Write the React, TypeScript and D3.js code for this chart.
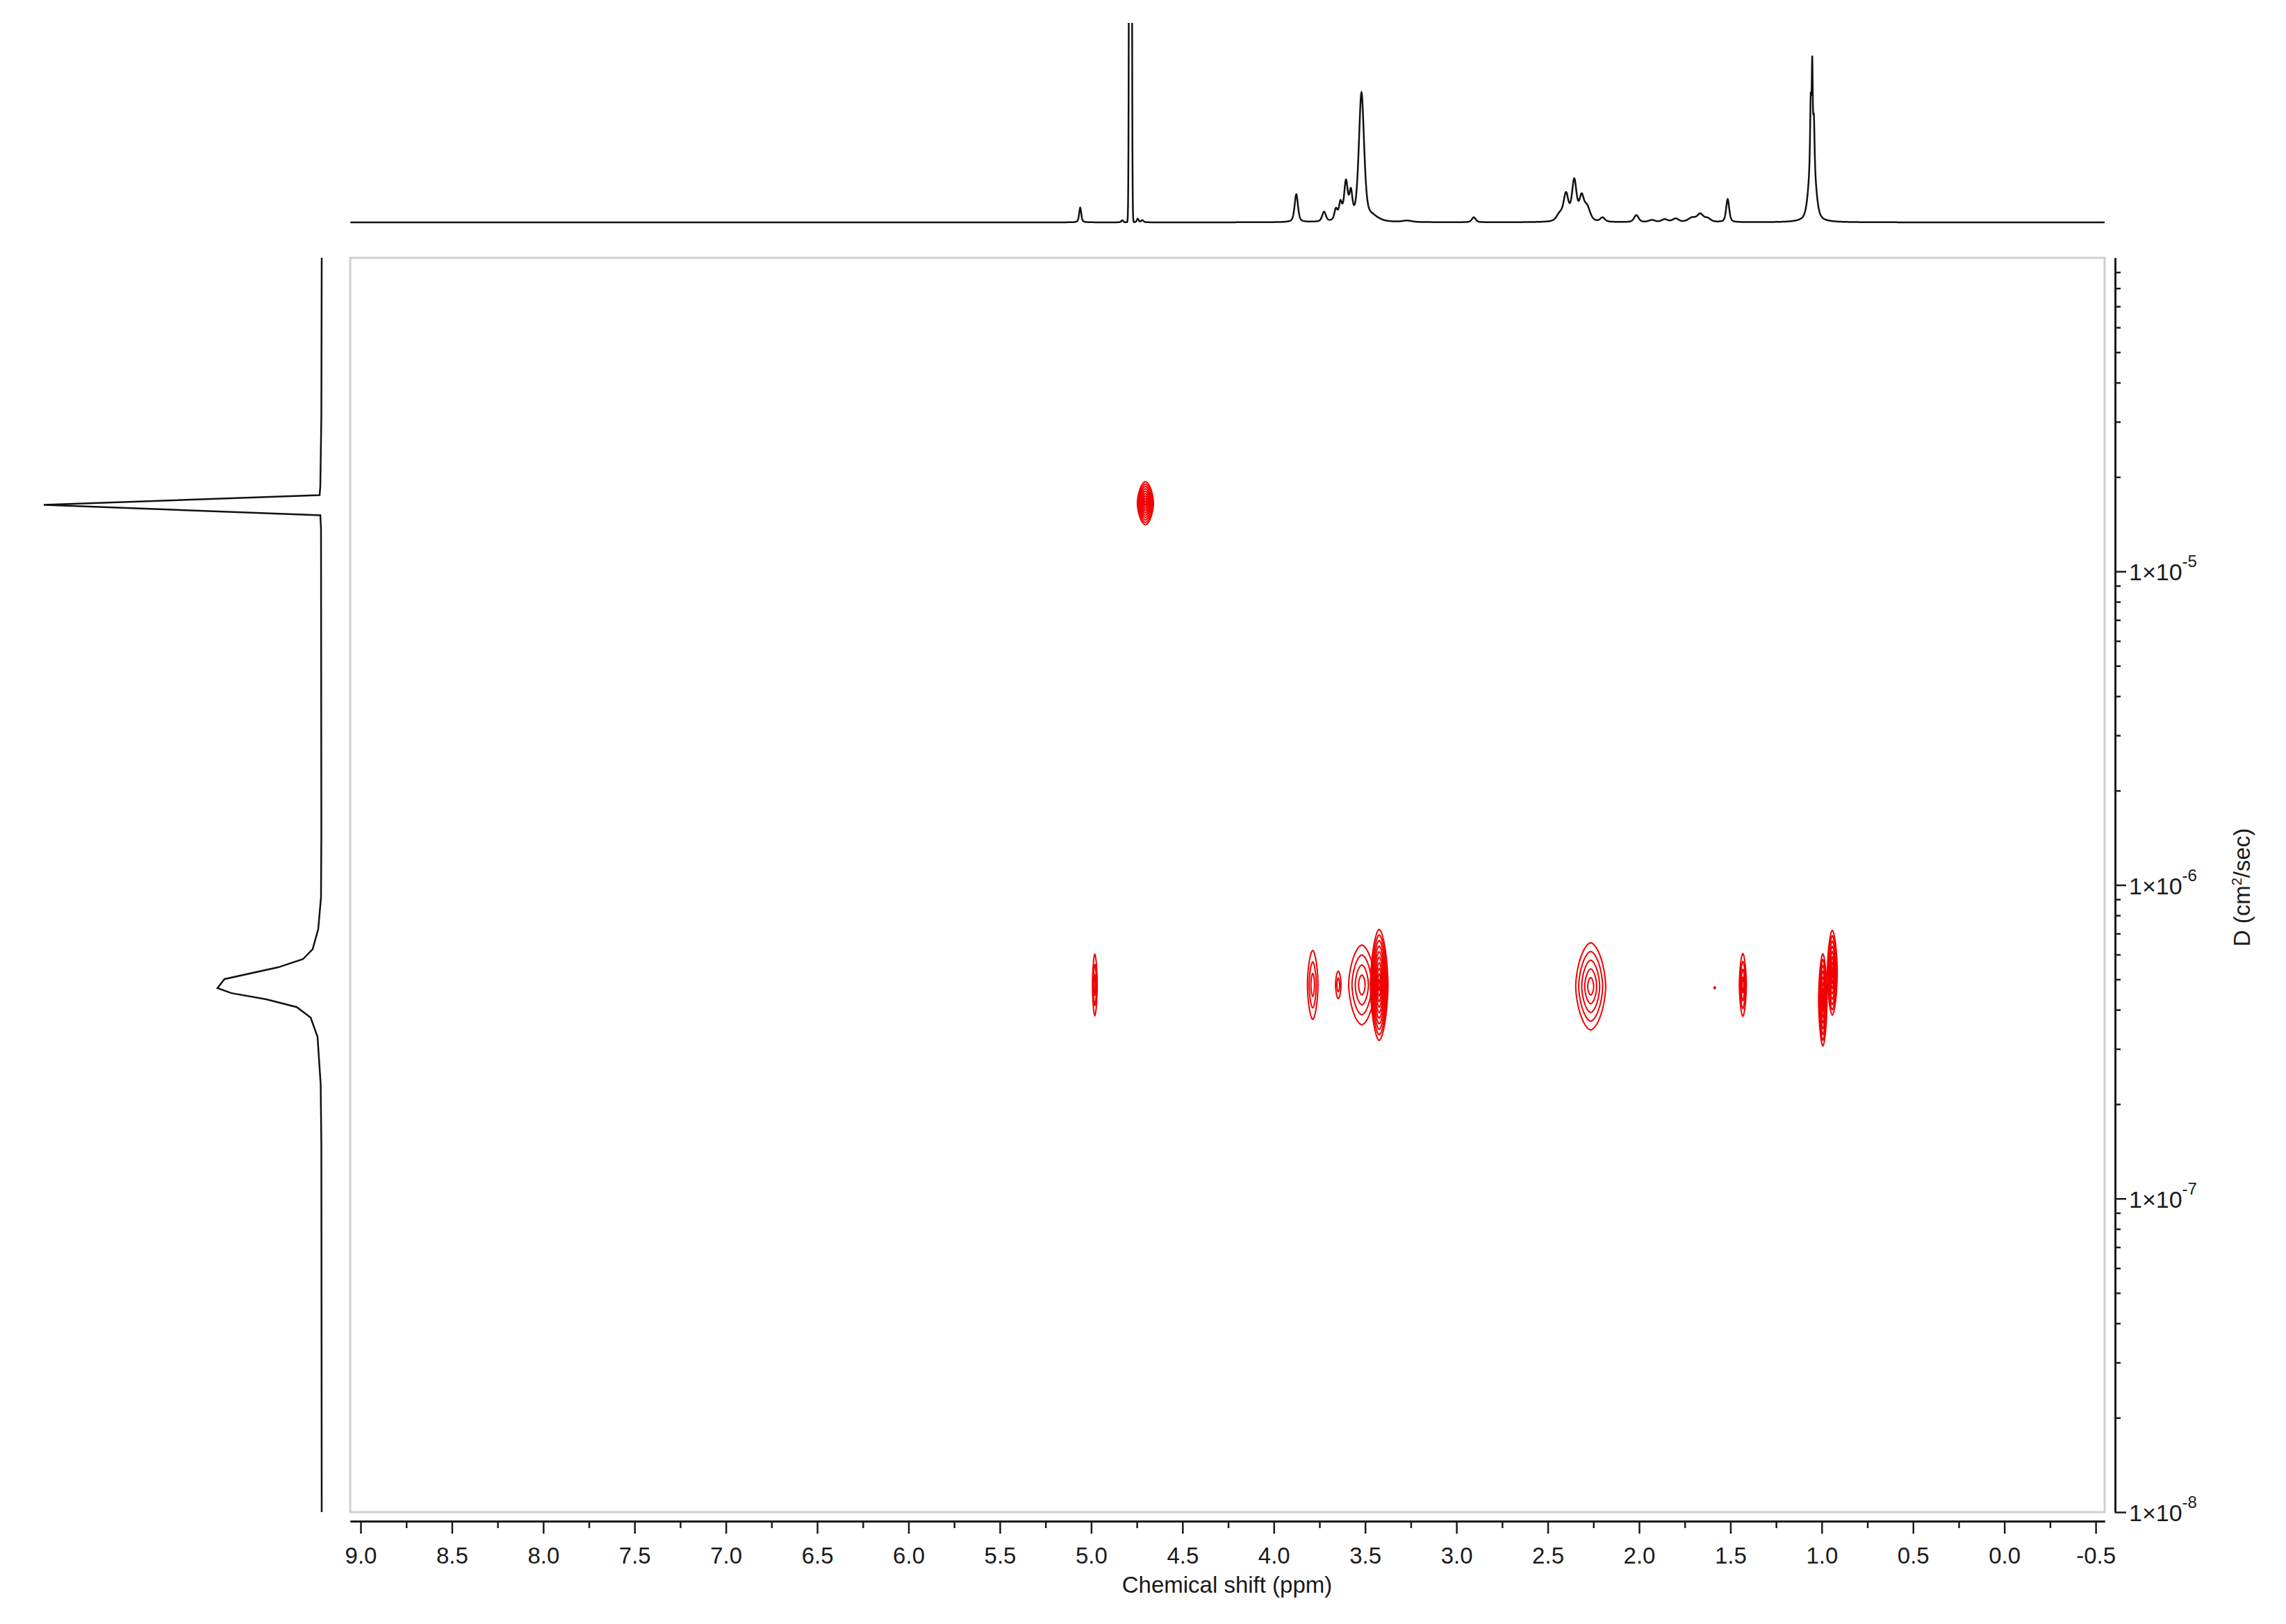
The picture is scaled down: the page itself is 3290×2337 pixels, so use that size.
import React, { useEffect, useRef } from 'react';
import * as d3 from 'd3';

// top 1H trace: peak table
// shift (ppm), height (a.u. ~ px), half width at half height (ppm), lorentzian fraction
const peakShift = [5.06, 4.83, 4.785, 4.745, 4.72, 3.877, 3.725, 3.66, 3.635, 3.605, 3.578, 3.52, 3.46, 3.27, 2.905, 2.435, 2.4, 2.355, 2.315, 2.285, 2.2, 2.015, 1.93, 1.86, 1.8, 1.71, 1.665, 1.625, 1.515, 1.06, 1.052, 1.043, 1.052];
const peakHeight = [21, 3, 3000, 5, 3, 40, 14, 16, 24, 54, 36, 184, 6, 2, 7, 10, 38, 58, 32, 20, 6, 10, 3, 4, 5, 6, 11, 5, 33, 85, 118, 58, 105];
const peakWidth = [0.007, 0.006, 0.005, 0.006, 0.008, 0.011, 0.012, 0.01, 0.01, 0.012, 0.01, 0.017, 0.04, 0.03, 0.013, 0.02, 0.016, 0.015, 0.015, 0.02, 0.015, 0.015, 0.02, 0.02, 0.02, 0.025, 0.02, 0.02, 0.01, 0.004, 0.003, 0.004, 0.02];
const peakLorentz = [0.5, 0.5, 0, 0.5, 0.5, 0.5, 0.5, 0.5, 0.5, 0.5, 0.5, 0.5, 0.5, 0.5, 0.5, 0.5, 0.5, 0.5, 0.5, 0.5, 0.5, 0.5, 0.5, 0.5, 0.5, 0.5, 0.5, 0.5, 0.5, 0.5, 0.5, 0.5, 0.5];

// left diffusion projection: D (cm2/sec) vs intensity
const projD = [1e-4, 3.13e-5, 1.87e-5, 1.75e-5, 1.63e-5, 1.51e-5, 1.37e-5, 1.46e-6, 9.14e-7, 7.23e-7, 6.24e-7, 5.8e-7, 5.46e-7, 5.01e-7, 4.69e-7, 4.52e-7, 4.32e-7, 4.08e-7, 3.78e-7, 3.28e-7, 2.32e-7, 1.47e-7, 1e-8];
const projIntensity = [0, 0.5, 2, 3, 400, 2, 1, 0.5, 1, 5, 13, 27, 63, 140, 150, 130, 80, 36, 16, 6, 1.5, 0.5, 0];

// DOSY cross peaks
const crossShift = [4.98, 4.703, 3.787, 3.647, 3.518, 3.423, 2.265, 1.586, 1.432, 0.994, 0.942];
const crossD = [4.8e-7, 1.65e-5, 4.8e-7, 4.8e-7, 4.8e-7, 4.8e-7, 4.75e-7, 4.7e-7, 4.8e-7, 4.3e-7, 5.25e-7];
const crossHalfShift = [0.013, 0.044, 0.029, 0.015, 0.072, 0.048, 0.082, 0.004, 0.019, 0.023, 0.027];
const crossHalfDecade = [0.098, 0.069, 0.11, 0.044, 0.127, 0.177, 0.139, 0.003, 0.1, 0.147, 0.135];
const crossLevels = [3, 9, 3, 2, 4, 10, 5, 1, 4, 8, 8];

const xTicks = [9.0, 8.5, 8.0, 7.5, 7.0, 6.5, 6.0, 5.5, 5.0, 4.5, 4.0, 3.5, 3.0, 2.5, 2.0, 1.5, 1.0, 0.5, 0.0, -0.5];
const yTicks = [1e-5, 1e-6, 1e-7, 1e-8];
const yTickExp = ['-5', '-6', '-7', '-8'];

const W = 3290;
const H = 2337;
const FONT = "'Liberation Sans', Arial, sans-serif";
const INK = '#1a1a1a';
const RED = '#f00000';

const x = d3.scaleLinear().domain([9.057, -0.549]).range([504, 3029]);
const y = d3.scaleLog().domain([1e-8, 1e-4]).range([2176, 371]);
const yTop = d3.scaleLinear().domain([0, 290]).range([320, 30]);
const xLeft = d3.scaleLinear().domain([0, 400]).range([463, 63]);

const shape = (dx: number, w: number, eta: number) => {
  const r2 = (dx / w) * (dx / w);
  return eta / (1 + r2) + (1 - eta) * Math.exp(-Math.LN2 * r2);
};

const grid = d3.range(-0.549, 9.057, 0.001);
const trace = grid.map((p) => {
  let v = 0;
  peakShift.forEach((s, i) => {
    v += peakHeight[i] * shape(p - s, peakWidth[i], peakLorentz[i]);
  });
  return [p, v] as [number, number];
});

const topLine = d3.line<[number, number]>().x((d) => x(d[0])).y((d) => yTop(d[1]));
const leftLine = d3.line<number>().x((_, i) => xLeft(projIntensity[i])).y((d) => y(d));

const contourPath = (i: number, k: number) => {
  const s = k / crossLevels[i];
  const rx = crossHalfShift[i] * s;
  const ry = crossHalfDecade[i] * s;
  const c = Math.log10(crossD[i]);
  const e = 2 / 1.7;
  const pts = d3.range(72).map((j) => {
    const t = (j / 72) * 2 * Math.PI;
    const ct = Math.cos(t);
    const st = Math.sin(t);
    return [
      x(crossShift[i] + rx * Math.sign(ct) * Math.abs(ct) ** e),
      y(10 ** (c + ry * Math.sign(st) * Math.abs(st) ** e)),
    ] as [number, number];
  });
  return d3.line().curve(d3.curveLinearClosed)(pts) as string;
};

const App: React.FC = () => {
  const xAxisRef = useRef<SVGGElement>(null);
  const yAxisRef = useRef<SVGGElement>(null);

  useEffect(() => {
    const gx = d3.select(xAxisRef.current);
    gx.selectAll('*').remove();
    const xMinor = xTicks.slice(0, -1).map((t) => t - 0.25);
    gx.append('g').call(d3.axisBottom(x).tickValues(xMinor).tickSize(10).tickSizeOuter(0).tickFormat(() => ''));
    gx.append('g').call(
      d3.axisBottom(x).tickValues(xTicks).tickSize(18).tickSizeOuter(0).tickPadding(20)
        .tickFormat((d) => (+d).toFixed(1))
    );
    gx.selectAll('.domain').attr('stroke', INK).attr('stroke-width', 3);
    gx.selectAll('.tick line').attr('stroke', INK).attr('stroke-width', 2.5);
    gx.selectAll('text').attr('font-family', FONT).attr('font-size', 33).attr('fill', INK);

    const gy = d3.select(yAxisRef.current);
    gy.selectAll('*').remove();
    const yMinor = y.ticks().filter((t) => !yTicks.includes(t) && t < 9.99e-5);
    gy.append('g').call(d3.axisRight(y).tickValues(yMinor).tickSize(8).tickSizeOuter(0).tickFormat(() => ''));
    gy.append('g').call(d3.axisRight(y).tickValues(yTicks).tickSize(16).tickSizeOuter(0).tickFormat(() => ''));
    gy.selectAll('.domain').attr('stroke', INK).attr('stroke-width', 3);
    gy.selectAll('.tick line').attr('stroke', INK).attr('stroke-width', 2.5);
  }, []);

  return (
    <svg width={W} height={H} style={{ position: 'absolute', left: 0, top: 0, background: '#fff' }}>
      <defs>
        <clipPath id="topClip">
          <rect x={500} y={33} width={2535} height={300} />
        </clipPath>
      </defs>

      {/* 1H projection */}
      <path d={topLine(trace) as string} fill="none" stroke="#111" strokeWidth={2.5} clipPath="url(#topClip)" />

      {/* diffusion projection */}
      <path d={leftLine(projD) as string} fill="none" stroke="#111" strokeWidth={2.5} />

      {/* plot frame */}
      <rect x={504} y={371} width={2525} height={1805} fill="none" stroke="#cfcfcf" strokeWidth={3} />

      {/* cross peaks */}
      <g fill="none" stroke={RED} strokeWidth={2}>
        {crossShift.map((_, i) =>
          d3.range(1, crossLevels[i] + 1).map((k) => (
            <path key={`${i}-${k}`} d={contourPath(i, k)} fill={crossLevels[i] === 1 ? RED : 'none'} />
          ))
        )}
      </g>

      <g ref={xAxisRef} transform="translate(0,2189)" />
      <text x={1766} y={2292} textAnchor="middle" fontFamily={FONT} fontSize={33} fill={INK}>
        Chemical shift (ppm)
      </text>

      <g ref={yAxisRef} transform="translate(3044,0)" />
      {yTicks.map((t, i) => (
        <text key={t} x={3064} y={y(t) + 13} fontFamily={FONT} fontSize={34} fill={INK}>
          1×10
          <tspan dy={-19} fontSize={24}>{yTickExp[i]}</tspan>
        </text>
      ))}
      <text transform="translate(3238,1277) rotate(-90)" textAnchor="middle" fontFamily={FONT} fontSize={33} fill={INK}>
        D (cm<tspan dy={-12} fontSize={20}>2</tspan><tspan dy={12}>/sec)</tspan>
      </text>
    </svg>
  );
};

export default App;
